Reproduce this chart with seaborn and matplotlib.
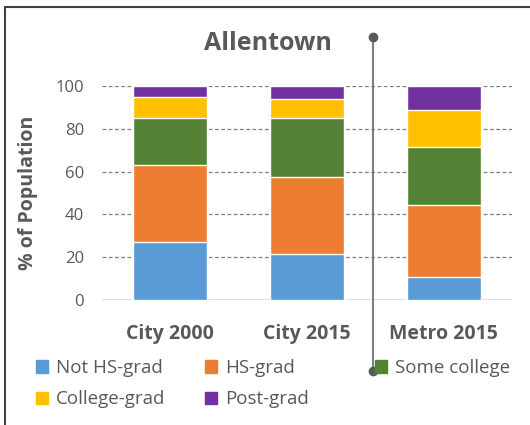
import pandas as pd
import numpy as np
import matplotlib
matplotlib.use("Agg")
import matplotlib.pyplot as plt
from matplotlib.patches import Patch, Rectangle
from matplotlib.lines import Line2D
import seaborn as sns

# данные
places = ["City 2000", "City 2015", "Metro 2015"]
levels = ["Not HS-grad", "HS-grad", "Some college", "College-grad", "Post-grad"]
not_hs = [27, 21.5, 10.7]
hs_grad = [36, 36, 33.7]
some_college = [22, 27.5, 27.1]
college_grad = [10, 9, 17.5]
post_grad = [5, 6, 11]
colors = ["#5B9BD5", "#ED7D31", "#548235", "#FFC000", "#7030A0"]
grey = "#595959"

sns.set_style("white")
plt.rcParams["font.family"] = ["Open Sans", "DejaVu Sans"]

df = pd.DataFrame({"place": places, "Not HS-grad": not_hs, "HS-grad": hs_grad,
                   "Some college": some_college, "College-grad": college_grad,
                   "Post-grad": post_grad})
# накопленные суммы для стекинга
cum = df[levels].cumsum(axis=1)
cum["place"] = df["place"]

W, H = 530, 425
fig = plt.figure(figsize=(W / 100, H / 100), dpi=100)
ax = fig.add_axes([102 / W, 1 - 300 / H, 410 / W, 214 / H])

for i in range(len(levels) - 1, -1, -1):
    sns.barplot(data=cum, x="place", y=levels[i], color=colors[i], width=0.54,
                saturation=1, ax=ax, order=places)

ax.set_xlim(-0.5, 2.5)
ax.set_ylim(0, 100)
ax.set_yticks([0, 20, 40, 60, 80, 100])
for v in [20, 40, 60, 80, 100]:
    ax.axhline(v, color="#7f7f7f", lw=0.9, ls=(0, (3, 2)), zorder=0)
ax.axhline(0, color="#d9d9d9", lw=1.2, zorder=0)
sns.despine(ax=ax, left=True, bottom=True)
ax.tick_params(axis="y", length=0, pad=13, labelsize=12, labelcolor=grey)
ax.tick_params(axis="x", length=0, pad=17, labelsize=14, labelcolor=grey)
for t in ax.get_xticklabels():
    t.set_fontweight("bold")
ax.set_xlabel("")
ax.set_ylabel("")
fig.text(28 / W, 1 - 193 / H, "% of Population", rotation=90, ha="center", va="center",
         fontsize=14, fontweight="bold", color=grey)
fig.text(268 / W, 1 - 43 / H, "Allentown", ha="center", va="center",
         fontsize=18, fontweight="bold", color=grey)

# легенда: три колонки фиксированной ширины
cols = [([0, 3], 36), ([1, 4], 205), ([2], 375)]
for idx, x0 in cols:
    fig.legend([Patch(color=colors[i]) for i in idx], [levels[i] for i in idx],
               loc="upper left", bbox_to_anchor=(x0 / W, 1 - 359 / H), frameon=False,
               borderpad=0, borderaxespad=0, fontsize=13.5, labelcolor=grey,
               handlelength=0.65, handleheight=0.65, handletextpad=0.4, labelspacing=0.72)

# рамка (низ и правый край за пределами картинки) и линия-соединитель
fig.patches.append(Rectangle((5 / W, -0.1), 1, 1 - 7 / H + 0.1, transform=fig.transFigure,
                             fill=False, ec="#404040", lw=1.5))
fig.lines.append(Line2D([373 / W, 373 / W], [1 - 37 / H, 1 - 371 / H],
                        transform=fig.transFigure, color="#7f7f7f", lw=1.5,
                        marker="o", markersize=6, markerfacecolor=grey,
                        markeredgecolor=grey))

plt.savefig("out.png", dpi=100)
